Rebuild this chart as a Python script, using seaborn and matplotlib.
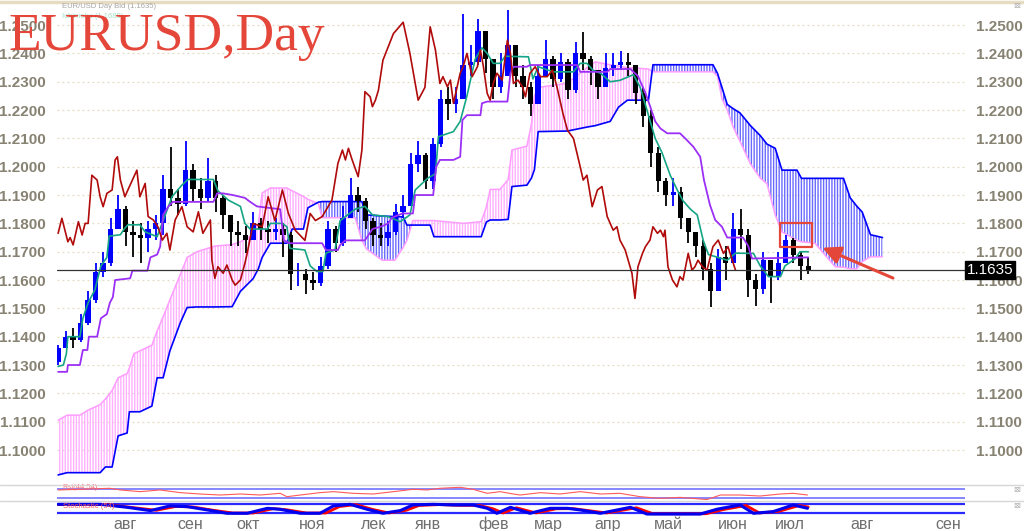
import numpy as np
import seaborn as sns
import matplotlib.pyplot as plt
from matplotlib import transforms
from matplotlib.patches import Rectangle

# ---- candles (one per position, open = prior close) ----
first_open = 1.131
close = [
    1.136, 1.140, 1.139, 1.145, 1.153, 1.163, 1.166, 1.178, 1.185, 1.177,
    1.176, 1.175, 1.178, 1.180, 1.192, 1.189, 1.187, 1.199, 1.192, 1.189,
    1.195, 1.189, 1.183, 1.177, 1.176, 1.174, 1.180, 1.178, 1.177, 1.178,
    1.176, 1.162, 1.162, 1.160, 1.159, 1.165, 1.178, 1.173, 1.182, 1.190,
    1.188, 1.181, 1.176, 1.175, 1.177, 1.184, 1.186, 1.201, 1.204, 1.195,
    1.208, 1.224, 1.222, 1.224, 1.236, 1.237, 1.248, 1.238, 1.228, 1.232,
    1.243, 1.232, 1.228, 1.222, 1.232, 1.238, 1.231, 1.237, 1.227, 1.240,
    1.238, 1.234, 1.228, 1.235, 1.236, 1.237, 1.236, 1.226, 1.218, 1.205,
    1.195, 1.190, 1.191, 1.182, 1.177, 1.172, 1.164, 1.156, 1.168, 1.166,
    1.178, 1.176, 1.160, 1.157, 1.167, 1.161, 1.166, 1.174, 1.169, 1.165,
    1.1635]
high = [
    1.137, 1.142, 1.143, 1.148, 1.156, 1.166, 1.170, 1.182, 1.190, 1.186,
    1.181, 1.180, 1.181, 1.183, 1.197, 1.207, 1.192, 1.209, 1.201, 1.196,
    1.203, 1.197, 1.190, 1.183, 1.181, 1.179, 1.184, 1.182, 1.181, 1.182,
    1.180, 1.177, 1.166, 1.164, 1.163, 1.168, 1.181, 1.179, 1.186, 1.196,
    1.193, 1.189, 1.182, 1.180, 1.181, 1.187, 1.190, 1.205, 1.209, 1.205,
    1.210, 1.227, 1.228, 1.228, 1.254, 1.243, 1.252, 1.248, 1.238, 1.240,
    1.2555, 1.243, 1.236, 1.230, 1.236, 1.2447, 1.239, 1.240, 1.238, 1.244,
    1.2476, 1.239, 1.234, 1.240, 1.240, 1.241, 1.240, 1.236, 1.228, 1.220,
    1.207, 1.196, 1.196, 1.193, 1.182, 1.177, 1.174, 1.166, 1.171, 1.172,
    1.1835, 1.185, 1.178, 1.162, 1.170, 1.166, 1.170, 1.176, 1.175, 1.170,
    1.168]
low = [
    1.130, 1.136, 1.136, 1.138, 1.144, 1.152, 1.161, 1.165, 1.178, 1.172,
    1.168, 1.166, 1.170, 1.174, 1.176, 1.186, 1.183, 1.186, 1.188, 1.185,
    1.188, 1.184, 1.178, 1.172, 1.172, 1.1695, 1.174, 1.174, 1.173, 1.174,
    1.168, 1.1565, 1.158, 1.155, 1.1565, 1.158, 1.164, 1.170, 1.172, 1.182,
    1.184, 1.178, 1.172, 1.172, 1.172, 1.176, 1.182, 1.186, 1.198, 1.192,
    1.192, 1.207, 1.2165, 1.219, 1.224, 1.232, 1.236, 1.233, 1.224, 1.226,
    1.232, 1.228, 1.224, 1.218, 1.222, 1.232, 1.228, 1.230, 1.224, 1.226,
    1.234, 1.229, 1.224, 1.228, 1.232, 1.234, 1.232, 1.222, 1.214, 1.200,
    1.191, 1.186, 1.186, 1.178, 1.173, 1.168, 1.160, 1.1506, 1.156, 1.160,
    1.166, 1.171, 1.154, 1.151, 1.155, 1.152, 1.160, 1.166, 1.166, 1.160,
    1.162]

# ---- ichimoku lines (x in candle positions) ----
kijun_x = [0.0, 1.2, 1.3, 2.9, 3.3, 3.9, 4.1, 5.2, 5.7, 6.5, 6.9, 7.3, 7.6, 9.6, 9.9, 11.9,
           12.3, 13.2, 13.6, 14.0, 14.7, 15.3, 20.7, 21.2, 22.0, 23.3, 24.9, 25.6, 26.5, 29.6,
           30.1, 30.9, 35.2, 35.7, 37.3, 37.6, 38.3, 40.9, 41.9, 43.2, 44.0, 44.5, 45.9, 47.3,
           47.6, 50.0, 50.4, 50.9, 52.7, 53.6, 53.9, 54.5, 56.3, 56.5, 57.2, 59.9, 60.3, 60.7,
           62.5, 62.9, 69.2, 69.6, 73.2, 73.6, 76.3, 77.3, 78.3, 78.9, 79.6, 80.3, 81.2, 82.9,
           83.6, 84.7, 85.6, 86.1, 86.9, 87.6, 88.5, 89.2, 91.3, 92.0, 92.5, 100.0]
kijun_y = [1.1276, 1.1276, 1.1300, 1.1300, 1.1353, 1.1353, 1.1400, 1.1400, 1.1465, 1.1480,
           1.1520, 1.1540, 1.1600, 1.1606, 1.1633, 1.1633, 1.1680, 1.1690, 1.1718, 1.1830,
           1.1860, 1.1876, 1.1876, 1.1906, 1.1906, 1.1900, 1.1890, 1.1876, 1.1860, 1.1850,
           1.1740, 1.1730, 1.1730, 1.1706, 1.1706, 1.1724, 1.1740, 1.1740, 1.1780, 1.1790,
           1.1800, 1.1820, 1.1835, 1.1835, 1.1900, 1.1900, 1.2000, 1.2024, 1.2024, 1.2035,
           1.2165, 1.2182, 1.2182, 1.2224, 1.2230, 1.2230, 1.2330, 1.2353, 1.2353, 1.2359,
           1.2359, 1.2335, 1.2335, 1.2345, 1.2345, 1.2320, 1.2260, 1.2215, 1.2160, 1.2135,
           1.2118, 1.2118, 1.2100, 1.2070, 1.2035, 1.1953, 1.1865, 1.1812, 1.1788, 1.1750,
           1.1750, 1.1720, 1.1676, 1.1680]

tenkan_x = [0.0, 0.7, 1.1, 1.3, 2.9, 3.3, 4.0, 4.9, 5.7, 6.5, 6.8, 8.3, 8.8, 9.3, 10.9, 11.6,
            13.2, 14.0, 15.2, 16.5, 17.3, 20.7, 21.3, 22.7, 24.3, 24.9, 25.6, 27.9, 28.3, 29.9,
            30.5, 30.9, 32.9, 33.6, 34.5, 35.3, 35.7, 36.9, 37.6, 39.6, 40.9, 41.9, 44.0, 45.6,
            46.9, 47.6, 49.3, 50.3, 50.7, 52.7, 53.6, 54.5, 55.6, 56.5, 57.2, 58.0, 58.9, 59.6,
            62.7, 63.3, 64.0, 66.0, 68.7, 69.6, 70.5, 71.3, 72.3, 73.6, 74.9, 76.7, 77.6, 78.5,
            79.6, 80.5, 81.6, 82.5, 83.3, 84.3, 85.2, 86.0, 86.7, 89.2, 90.3, 92.7, 93.6, 94.7,
            96.3, 96.9, 98.3, 98.9, 100.0]
tenkan_y = [1.1295, 1.1300, 1.1340, 1.1400, 1.1400, 1.1465, 1.1520, 1.1565, 1.1650, 1.1680,
            1.1755, 1.1760, 1.1780, 1.1795, 1.1795, 1.1770, 1.1753, 1.1810, 1.1895, 1.1935,
            1.1955, 1.1955, 1.1915, 1.1882, 1.1860, 1.1800, 1.1780, 1.1780, 1.1800, 1.1800,
            1.1788, 1.1712, 1.1706, 1.1650, 1.1630, 1.1630, 1.1695, 1.1706, 1.1810, 1.1850,
            1.1860, 1.1830, 1.1824, 1.1806, 1.1830, 1.1918, 1.1960, 1.1975, 1.2106, 1.2124,
            1.2160, 1.2250, 1.2380, 1.2420, 1.2400, 1.2365, 1.2365, 1.2390, 1.2388, 1.2310,
            1.2353, 1.2335, 1.2335, 1.2365, 1.2365, 1.2341, 1.2330, 1.2300, 1.2305, 1.2325,
            1.2280, 1.2200, 1.2100, 1.2050, 1.1970, 1.1920, 1.1880, 1.1850, 1.1830, 1.1740,
            1.1690, 1.1670, 1.1695, 1.1694, 1.1650, 1.1612, 1.1612, 1.1650, 1.1676, 1.1700,
            1.1700]

chikou_x = [0.0, 0.5, 0.9, 1.3, 1.6, 2.0, 2.7, 3.2, 3.6, 4.0, 4.5, 5.2, 5.6, 6.0, 6.5, 7.2,
            7.6, 7.9, 8.3, 8.9, 9.3, 10.5, 10.9, 11.6, 12.0, 12.7, 13.3, 13.9, 14.5, 14.9, 15.6,
            16.5, 17.2, 18.0, 18.7, 19.3, 20.3, 20.5, 20.9, 21.3, 22.0, 22.5, 23.2, 23.6, 24.3,
            24.9, 25.2, 26.0, 27.2, 28.0, 28.9, 29.9, 30.7, 31.6, 32.9, 33.6, 34.3, 35.2, 36.5,
            37.3, 37.9, 38.3, 38.7, 39.2, 40.0, 40.5, 40.9, 41.6, 41.9, 42.3, 42.7, 43.3, 44.7,
            46.0, 46.9, 48.0, 48.9, 49.6, 50.3, 50.9, 51.3, 51.9, 52.3, 52.7, 53.6, 54.0, 54.5,
            55.2, 55.9, 56.3, 56.7, 57.2, 57.6, 58.0, 58.5, 59.2, 59.9, 60.3, 60.7, 61.3, 61.9,
            62.3, 62.9, 63.6, 64.3, 65.2, 65.9, 66.5, 66.9, 67.3, 67.9, 68.7, 69.6, 70.0, 70.5,
            71.2, 71.9, 72.5, 73.2, 74.0, 74.5, 74.9, 75.6, 76.0, 76.5, 76.9, 77.3, 77.9, 78.3,
            78.9, 79.3, 79.9, 80.3, 80.7, 80.9, 81.3, 81.9, 82.5, 82.9, 83.3, 84.0, 84.5, 84.9,
            85.3, 85.9, 86.5, 87.3, 88.0, 88.7, 89.3, 90.3]
chikou_y = [1.1765, 1.1818, 1.1776, 1.1735, 1.1750, 1.1724, 1.1806, 1.1759, 1.1800, 1.1800,
            1.1970, 1.1953, 1.1894, 1.1859, 1.1906, 1.1918, 1.2024, 1.2035, 1.1953, 1.1894,
            1.1918, 1.1988, 1.1894, 1.1941, 1.1824, 1.1812, 1.1788, 1.1741, 1.1765, 1.1706,
            1.1812, 1.1859, 1.1788, 1.1770, 1.1841, 1.1765, 1.1812, 1.1670, 1.1606, 1.1647,
            1.1624, 1.1653, 1.1600, 1.1582, 1.1600, 1.1659, 1.1694, 1.1800, 1.1788, 1.1894,
            1.1810, 1.1918, 1.1835, 1.1776, 1.1740, 1.1835, 1.1810, 1.1824, 1.1882, 1.2012,
            1.2059, 1.2024, 1.2065, 1.2024, 1.1965, 1.2059, 1.2265, 1.2247, 1.2212, 1.2235,
            1.2270, 1.2376, 1.2470, 1.2510, 1.2400, 1.2235, 1.2280, 1.2494, 1.2412, 1.2294,
            1.2318, 1.2282, 1.2306, 1.2224, 1.2330, 1.2353, 1.2400, 1.2318, 1.2353, 1.2412,
            1.2353, 1.2259, 1.2235, 1.2294, 1.2330, 1.2306, 1.2447, 1.2400, 1.2294, 1.2306,
            1.2282, 1.2247, 1.2330, 1.2353, 1.2318, 1.2318, 1.2341, 1.2282, 1.2235, 1.2188,
            1.2129, 1.2100, 1.2000, 1.1953, 1.1970, 1.1859, 1.1918, 1.1930, 1.1824, 1.1776,
            1.1788, 1.1741, 1.1706, 1.1670, 1.1624, 1.1535, 1.1647, 1.1694, 1.1718, 1.1741,
            1.1788, 1.1765, 1.1776, 1.1753, 1.1776, 1.1647, 1.1600, 1.1576, 1.1612, 1.1600,
            1.1694, 1.1635, 1.1647, 1.1670, 1.1647, 1.1635, 1.1718, 1.1741, 1.1694, 1.1718,
            1.1635]

cloud_x = [0.0, 1.2, 2.9, 4.0, 5.6, 6.3, 7.2, 8.0, 9.2, 9.5, 10.1, 10.9, 12.5, 13.2, 14.0,
           14.9, 16.3, 17.2, 18.5, 20.9, 23.2, 24.3, 26.0, 26.7, 27.2, 28.3, 30.5, 31.2, 32.7,
           33.3, 34.7, 35.2, 39.6, 40.5, 41.1, 43.2, 44.9, 46.0, 46.5, 47.3, 49.6, 50.1, 54.0,
           56.4, 57.1, 57.6, 58.9, 60.0, 60.5, 62.5, 63.1, 63.5, 64.0, 67.9, 70.5, 71.6, 73.6,
           74.7, 75.9, 78.7, 79.3, 87.3, 87.9, 88.5, 89.2, 90.0, 90.9, 92.3, 93.6, 94.5, 95.6,
           96.5, 98.5, 99.1, 100.9, 102.5, 103.6, 104.7, 105.6, 106.5, 107.2, 108.3, 109.9]
span_a = [1.1105, 1.1123, 1.1123, 1.1141, 1.1160, 1.1180, 1.1210, 1.1255, 1.1270, 1.1290,
          1.1340, 1.1350, 1.1370, 1.1420, 1.1470, 1.1530, 1.1620, 1.1680, 1.1700, 1.1720,
          1.1725, 1.1735, 1.1760, 1.1800, 1.1907, 1.1925, 1.1925, 1.1915, 1.1895, 1.1885,
          1.1870, 1.1820, 1.1820, 1.1740, 1.1710, 1.1670, 1.1670, 1.1715, 1.1740, 1.1810,
          1.1810, 1.1810, 1.1800, 1.1806, 1.1859, 1.1920, 1.1920, 1.1955, 1.2059, 1.2073,
          1.2150, 1.2250, 1.2280, 1.2295, 1.2350, 1.2370, 1.2360, 1.2355, 1.2350, 1.2345,
          1.2335, 1.2335, 1.2320, 1.2240, 1.2200, 1.2140, 1.2090, 1.2010, 1.1960, 1.1940,
          1.1830, 1.1770, 1.1740, 1.1735, 1.1730, 1.1680, 1.1647, 1.1645, 1.1640, 1.1640,
          1.1665, 1.1682, 1.1682]
span_b = [1.0912, 1.0920, 1.0920, 1.0920, 1.0920, 1.0940, 1.0940, 1.1050, 1.1060, 1.1135,
          1.1135, 1.1135, 1.1155, 1.1255, 1.1255, 1.1350, 1.1450, 1.1503, 1.1505, 1.1505,
          1.1506, 1.1560, 1.1605, 1.1640, 1.1680, 1.1730, 1.1730, 1.1780, 1.1780, 1.1855,
          1.1875, 1.1877, 1.1877, 1.1877, 1.1830, 1.1826, 1.1824, 1.1823, 1.1794, 1.1794,
          1.1794, 1.1753, 1.1753, 1.1753, 1.1805, 1.1812, 1.1812, 1.1814, 1.1930, 1.1935,
          1.1960, 1.1990, 1.2124, 1.2126, 1.2140, 1.2145, 1.2160, 1.2210, 1.2235, 1.2235,
          1.2360, 1.2360, 1.2330, 1.2280, 1.2220, 1.2205, 1.2190, 1.2145, 1.2110, 1.2080,
          1.2065, 1.1988, 1.1988, 1.1959, 1.1959, 1.1959, 1.1959, 1.1959, 1.1890, 1.1860,
          1.1840, 1.1760, 1.1750]

# ---- oscillators ----
rsi_x = [0.0, 2.9, 6.9, 8.3, 10.9, 13.6, 16.3, 18.9, 21.6, 24.3, 26.9, 29.6, 30.5, 32.3, 34.9,
         36.7, 39.3, 42.0, 44.7, 47.3, 49.2, 50.9, 53.6, 55.3, 57.2, 58.9, 60.7, 61.6, 64.3,
         66.9, 69.6, 72.3, 74.9, 77.6, 80.3, 82.9, 86.5, 88.3, 90.9, 93.6, 96.3, 98.0, 99.9]
rsi_y = [66.8, 70.0, 74.8, 66.8, 58.8, 66.8, 54.0, 47.6, 42.8, 47.6, 42.8, 50.8, 34.8, 42.8, 54.0,
         58.8, 50.8, 47.6, 58.8, 70.0, 66.8, 74.8, 79.6, 70.0, 50.8, 58.8, 47.6, 42.8, 54.0,
         47.6, 58.8, 47.6, 50.8, 34.8, 26.8, 31.6, 21.0, 42.8, 42.8, 38.0, 47.6, 50.8, 42.8]

stoch_x = [0.0, 5.6, 9.2, 12.3, 14.9, 17.2, 19.9, 22.5, 25.2, 27.9, 29.6, 32.3, 34.9, 36.7,
           38.9, 41.2, 43.3, 45.6, 47.3, 50.0, 52.7, 55.3, 57.2, 58.5, 60.3, 62.9, 65.6, 67.9,
           69.6, 72.3, 76.3, 78.5, 85.6, 87.9, 90.9, 92.7, 95.3, 98.0, 99.9]
stoch_main = [80, 80, 60, 37.8, 68.9, 64.4, 42.2, 20, 20, 53.3, 46.7, 20, 20, 68.9,
              80, 46.7, 20, 37.8, 75.6, 80, 75.6, 75.6, 53.3, 20, 60, 20, 53.3, 53.3,
              42.2, 20, 60, 15, 15, 48, 75.6, 20, 31, 75.6, 53.3]
signal_x = [0.0, 6.4, 10.0, 13.1, 15.7, 18.0, 20.7, 23.3, 26.0, 28.7, 30.4, 33.1, 35.7, 37.5,
            39.7, 42.0, 44.1, 46.4, 48.1, 50.8, 53.5, 56.1, 58.0, 59.3, 61.1, 63.7, 66.4, 68.7,
            70.4, 73.1, 77.1, 79.3, 86.4, 88.7, 91.7, 93.5, 96.1, 98.8, 100.0]
stoch_signal = [78, 79, 58, 40, 66, 62, 40, 22, 22, 51, 44, 22, 22, 65,
                78, 45, 22, 40, 72, 78, 73, 73, 50, 22, 57, 22, 50, 51,
                40, 22, 57, 17, 17, 45, 72, 22, 33, 72, 62]

month_labels = ["авг", "сен", "окт", "ноя", "лек", "янв", "фев", "мар", "апр", "май",
                "июн", "июл", "авг", "сен"]
month_pos = [8.9, 17.6, 25.3, 33.9, 42.0, 49.3, 58.0, 65.3, 73.2, 81.3, 89.9, 97.6, 107.2, 118.7]

tick_prices = [1.10, 1.11, 1.12, 1.13, 1.14, 1.15, 1.16, 1.17, 1.18, 1.19,
               1.20, 1.21, 1.22, 1.23, 1.24, 1.25]
last_price = 1.1635

# ---- style ----
sns.set_theme(style="white")
plt.rcParams["font.family"] = ["Liberation Sans", "DejaVu Sans"]
plt.rcParams["hatch.linewidth"] = 1.0

W, H = 1024, 531
fig = plt.figure(figsize=(10.24, 5.31), dpi=100)
ax = fig.add_axes([57 / W, 47 / H, 908 / W, 481 / H])
xlim = (-0.15, 120.9)

op = np.array([first_open] + close[:-1])
cl = np.array(close)
hi = np.array(high)
lo = np.array(low)
pos = np.arange(len(cl))

# cloud
cx, a, b = np.array(cloud_x), np.array(span_a), np.array(span_b)
ax.fill_between(cx, a, b, where=a >= b, interpolate=True, facecolor="none",
                edgecolor="#ffb0ff", hatch="||||||", linewidth=0, zorder=1)
ax.fill_between(cx, a, b, where=b > a, interpolate=True, facecolor="none",
                edgecolor="#6a6aff", hatch="||||||", linewidth=0, zorder=1)
sns.lineplot(x=cloud_x, y=span_a, ax=ax, color="#ff9cff", linewidth=1.1,
             estimator=None, sort=False, zorder=2)
sns.lineplot(x=cloud_x, y=span_b, ax=ax, color="#0000ff", linewidth=1.2,
             estimator=None, sort=False, zorder=2)

# candles
bull = cl >= op
for mask, col in [(bull, "#0000ff"), (~bull, "#000000")]:
    ax.vlines(pos[mask], lo[mask], hi[mask], color=col, linewidth=1.3, zorder=3)
    ax.bar(pos[mask], np.abs(cl - op)[mask], bottom=np.minimum(cl, op)[mask],
           width=0.72, color=col, linewidth=0, zorder=3)

# tenkan / kijun / chikou
sns.lineplot(x=tenkan_x, y=tenkan_y, ax=ax, color="#16a585", linewidth=1.2,
             estimator=None, sort=False, zorder=4)
sns.lineplot(x=kijun_x, y=kijun_y, ax=ax, color="#9b2ff5", linewidth=1.3,
             estimator=None, sort=False, zorder=4)
sns.lineplot(x=chikou_x, y=chikou_y, ax=ax, color="#b00a0a", linewidth=1.2,
             estimator=None, sort=False, zorder=4)

ax.axhline(last_price, color="#333333", linewidth=0.9, zorder=5)

# marked zone and arrow
ax.add_patch(Rectangle((96.3, 1.1716), 4.2, 0.0084, fill=False, edgecolor="#e5463a",
                       linewidth=1.6, joinstyle="round", zorder=6))
ax.annotate("", xy=(101.9, 1.1714), xytext=(111.3, 1.1607),
            arrowprops=dict(arrowstyle="-|>,head_length=0.9,head_width=0.45",
                            color="#e5463a", linewidth=2.2, shrinkA=0, shrinkB=0),
            zorder=6)

ax.set_xlim(*xlim)
ax.set_ylim(1.0880, 1.2578)
ax.set_xticks([])
ax.set_yticks(tick_prices)
ax.yaxis.set_major_formatter("{x:.4f}")
ax.tick_params(axis="y", left=False, right=False, labelleft=True, labelright=True,
               labelsize=11, labelcolor="#878272", pad=2)
for t in ax.yaxis.get_major_ticks():
    t.label1.set_fontweight("bold")
    t.label2.set_fontweight("bold")
ax.grid(axis="y", color="#e3dac2", linestyle=(0, (1.5, 2.5)), linewidth=0.9)
ax.grid(axis="x", visible=False)
for s in ax.spines.values():
    s.set_visible(False)
ax.set_xlabel("")
ax.set_ylabel("")

# last price box
trans = transforms.blended_transform_factory(ax.transAxes, ax.transData)
ax.text(1.002, last_price, "1.1635", transform=trans, ha="left", va="center",
        fontsize=11, color="white", zorder=7,
        bbox=dict(boxstyle="square,pad=0.12", facecolor="black", edgecolor="black"))

# ---- RSI panel ----
ax_rsi = fig.add_axes([57 / W, 31 / H, 908 / W, 14 / H])
ax_rsi.axhline(70, color="#7272ff", linewidth=1.2)
ax_rsi.axhline(30, color="#7272ff", linewidth=1.2)
sns.lineplot(x=rsi_x, y=rsi_y, ax=ax_rsi, color="#ff5a5a", linewidth=0.8,
             estimator=None, sort=False)
ax_rsi.text(0.6, 77, "Rsi(44:54)", fontsize=5.5, color="#ff7070", va="center")
ax_rsi.set_xlim(*xlim)
ax_rsi.set_ylim(19, 85.7)
ax_rsi.axis("off")

# ---- Stochastic panel ----
ax_st = fig.add_axes([57 / W, 14 / H, 908 / W, 15 / H])
ax_st.axhline(80, color="#2a2aff", linewidth=1.6)
ax_st.axhline(20, color="#2a2aff", linewidth=1.6)
sns.lineplot(x=signal_x, y=stoch_signal, ax=ax_st, color="#ff0000", linewidth=2.0,
             estimator=None, sort=False)
sns.lineplot(x=stoch_x, y=stoch_main, ax=ax_st, color="#0000ee", linewidth=2.2,
             estimator=None, sort=False)
ax_st.text(0.6, 68, "Stochastic (54)", fontsize=5.5, color="#ff6060", va="center")
ax_st.set_xlim(*xlim)
ax_st.set_ylim(-4.7, 95.3)
ax_st.axis("off")

# month labels from the data x scale
mtrans = transforms.blended_transform_factory(ax_st.transData, ax_st.transAxes)
for p, lab in zip(month_pos, month_labels):
    ax_st.text(p, -0.8, lab, transform=mtrans, ha="center", va="baseline",
               fontsize=11.5, color="#6f6f6f", clip_on=False)

# separators and frame bits
for yy, col, lw in [(H - 1.5, "#e6dcc2", 2.5), (H - 485, "#d6d6d6", 1.0),
                    (H - 501, "#d6d6d6", 1.0)]:
    fig.add_artist(plt.Line2D([0, 1], [yy / H, yy / H], color=col, linewidth=lw,
                              transform=fig.transFigure))
for yy in [6, 489, 506]:
    fig.text(1017 / W, 1 - yy / H, "⊠", fontsize=6, color="#b0b0b0",
             ha="center", va="center", family=["DejaVu Sans"])

# header texts and title
fig.text(62 / W, 1 - 8.5 / H, "EUR/USD Day Bid (1.1635)", fontsize=5.5,
         color="#a6a6a6", va="baseline")
fig.text(62 / W, 1 - 18.5 / H, "Ichimoku (1.1689)", fontsize=5.5,
         color="#a4e2c6", va="baseline")
fig.text(8 / W, 1 - 50 / H, "EURUSD,Day", fontsize=38.5, color="#e5463a",
         va="baseline", family=["Liberation Serif", "DejaVu Serif"])

fig.savefig("out.png", dpi=100)
